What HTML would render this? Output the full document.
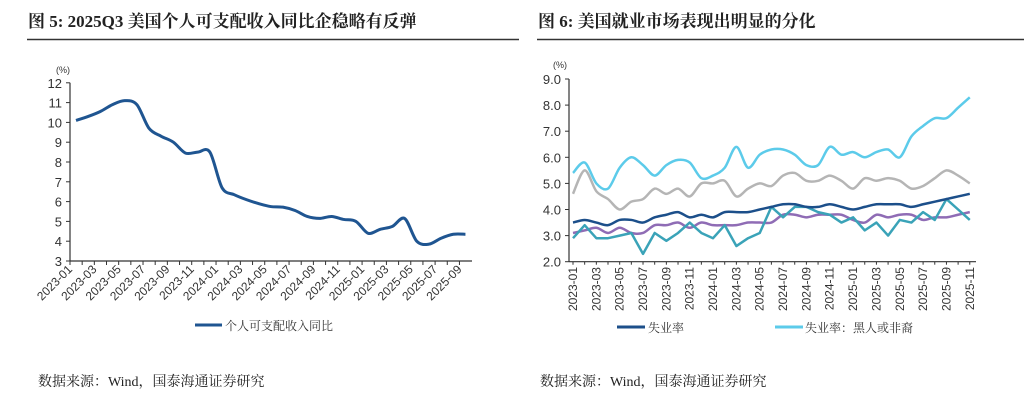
<!DOCTYPE html>
<html><head><meta charset="utf-8"><style>
body{margin:0;background:#fff;width:1024px;height:409px;overflow:hidden;font-family:"Liberation Serif","Noto Serif CJK SC",serif}
svg{position:absolute;left:0;top:0}
</style></head><body>
<svg id="s" width="1024" height="409" viewBox="0 0 1024 409">
<text x="28" y="27" font-size="17" font-weight="bold" fill="#222" font-family="Liberation Serif,Noto Serif CJK SC,serif">图 5: 2025Q3 美国个人可支配收入同比企稳略有反弹</text>
<text x="538" y="27" font-size="17" font-weight="bold" fill="#222" font-family="Liberation Serif,Noto Serif CJK SC,serif">图 6: 美国就业市场表现出明显的分化</text>
<line x1="27" y1="39.5" x2="519" y2="39.5" stroke="#333" stroke-width="1.5"/>
<line x1="537" y1="39.5" x2="1024" y2="39.5" stroke="#333" stroke-width="1.5"/>
<text x="38" y="386" font-size="14" fill="#222" font-family="Liberation Serif,Noto Serif CJK SC,serif">数据来源：Wind，国泰海通证券研究</text>
<text x="540" y="386" font-size="14" fill="#222" font-family="Liberation Serif,Noto Serif CJK SC,serif">数据来源：Wind，国泰海通证券研究</text>
<g id="L"></g><g id="R"></g>
</svg>
<script>
const leftCats=[];for(let y=2023;y<=2025;y++)for(let m=1;m<=12;m++){if(leftCats.length<33)leftCats.push(y+'-'+String(m).padStart(2,'0'));}
const leftTicks=[3,4,5,6,7,8,9,10,11,12];
const incomeYoY=[10.1,10.3,10.55,10.9,11.1,10.9,9.7,9.3,9.0,8.45,8.5,8.5,6.7,6.35,6.1,5.9,5.75,5.72,5.55,5.25,5.15,5.25,5.1,5.0,4.4,4.6,4.75,5.15,4.0,3.85,4.15,4.35,4.35];
const rightCats=[];for(let y=2023;y<=2025;y++)for(let m=1;m<=12;m++){if(rightCats.length<35)rightCats.push(y+'-'+String(m).padStart(2,'0'));}
const rightTicks=[2,3,4,5,6,7,8,9];
const unemp=[3.5,3.6,3.5,3.4,3.6,3.6,3.5,3.7,3.8,3.9,3.7,3.8,3.7,3.9,3.9,3.9,4.0,4.1,4.2,4.2,4.1,4.1,4.2,4.1,4.0,4.1,4.2,4.2,4.2,4.1,4.2,4.3,4.4,4.5,4.6];
const unempBlack=[5.4,5.8,5.0,4.8,5.6,6.0,5.7,5.3,5.7,5.9,5.8,5.2,5.3,5.6,6.4,5.6,6.1,6.3,6.3,6.1,5.7,5.7,6.4,6.1,6.2,6.0,6.2,6.3,6.0,6.8,7.2,7.5,7.5,7.9,8.3];
const unempGrey=[4.6,5.5,4.7,4.4,4.0,4.3,4.4,4.8,4.6,4.8,4.5,5.0,5.0,5.1,4.5,4.8,5.0,4.9,5.3,5.4,5.1,5.1,5.3,5.1,4.8,5.2,5.1,5.2,5.1,4.8,4.9,5.2,5.5,5.3,5.0];
const unempPurple=[3.1,3.2,3.3,3.1,3.3,3.1,3.1,3.4,3.4,3.5,3.3,3.5,3.4,3.4,3.4,3.5,3.5,3.5,3.8,3.8,3.7,3.8,3.8,3.8,3.6,3.5,3.8,3.7,3.8,3.8,3.6,3.7,3.7,3.8,3.9];
const unempTeal=[2.9,3.4,2.9,2.9,3.0,3.1,2.3,3.1,2.8,3.1,3.5,3.1,2.9,3.4,2.6,2.9,3.1,4.1,3.7,4.1,4.1,3.9,3.8,3.5,3.7,3.2,3.5,3.0,3.6,3.5,3.9,3.6,4.4,4.0,3.6];

const NS='http://www.w3.org/2000/svg';
function mk(tag,attrs,parent,txt){const e=document.createElementNS(NS,tag);for(const k in attrs)e.setAttribute(k,attrs[k]);if(txt!==undefined)e.textContent=txt;parent.appendChild(e);return e;}
function smooth(pts){let d='M'+pts[0][0]+','+pts[0][1];for(let i=0;i<pts.length-1;i++){const p0=pts[i-1]||pts[i],p1=pts[i],p2=pts[i+1],p3=pts[i+2]||p2;const t=0.16;d+=' C'+(p1[0]+(p2[0]-p0[0])*t)+','+(p1[1]+(p2[1]-p0[1])*t)+' '+(p2[0]-(p3[0]-p1[0])*t)+','+(p2[1]-(p3[1]-p1[1])*t)+' '+p2[0]+','+p2[1];}return d;}
const sans='Liberation Sans,Noto Sans CJK SC,sans-serif';

// LEFT
const L=document.getElementById('L');
const lx=i=>76+i*12.17, ly=v=>261-(v-3)*19.8;
mk('line',{x1:70,y1:ly(3),x2:472,y2:ly(3),stroke:'#333','stroke-width':1.2},L);
mk('line',{x1:70,y1:ly(3),x2:70,y2:ly(12),stroke:'#333','stroke-width':1.2},L);
leftTicks.forEach(v=>{mk('line',{x1:66,y1:ly(v),x2:70,y2:ly(v),stroke:'#333'},L);
const t=mk('text',{x:62,y:ly(v)+5,'font-size':13,'text-anchor':'end',fill:'#333','font-family':sans},L,String(v));
});
mk('text',{x:56,y:73,'font-size':9,fill:'#333','font-family':sans},L,'(%)');
leftCats.forEach((c,i)=>{const x=lx(i)-6;mk('line',{x1:x,y1:261,x2:x,y2:265,stroke:'#333'},L);
if(i%2===0){const t=mk('text',{x:x+3,y:270,'font-size':12,'text-anchor':'end',fill:'#333','font-family':sans,transform:'rotate(-45 '+(x+3)+' 270)'},L,c);
}});
const lp=mk('path',{d:smooth(incomeYoY.map((v,i)=>[lx(i),ly(v)])),fill:'none',stroke:'#1f5591','stroke-width':3},L);

mk('line',{x1:195,y1:325,x2:222,y2:325,stroke:'#1f5591','stroke-width':3},L);
mk('text',{x:225,y:330,'font-size':12,fill:'#333','font-family':'Liberation Serif,Noto Serif CJK SC,serif'},L,'个人可支配收入同比');

// RIGHT
const R=document.getElementById('R');
const rx=i=>573+i*11.67, ry=v=>261.7-(v-2)*26.1;
mk('line',{x1:569,y1:ry(2),x2:976,y2:ry(2),stroke:'#333','stroke-width':1.2},R);
mk('line',{x1:569,y1:ry(2),x2:569,y2:ry(9),stroke:'#333','stroke-width':1.2},R);
rightTicks.forEach(v=>{mk('line',{x1:565,y1:ry(v),x2:569,y2:ry(v),stroke:'#333'},R);
const t=mk('text',{x:561,y:ry(v)+5,'font-size':13,'text-anchor':'end',fill:'#333','font-family':sans},R,v.toFixed(1));
});
mk('text',{x:553,y:68,'font-size':9,fill:'#333','font-family':sans},R,'(%)');
rightCats.forEach((c,i)=>{const x=rx(i);mk('line',{x1:x,y1:ry(2),x2:x,y2:ry(2)+3,stroke:'#333'},R);
if(i%2===0){const t=mk('text',{x:x+4,y:267,'font-size':12,'text-anchor':'end',fill:'#333','font-family':sans,transform:'rotate(-90 '+(x+4)+' 267)'},R,c);
}});
function series(arr,col,name,sm){const pts=arr.map((v,i)=>[rx(i),ry(v)]);const d=sm?smooth(pts):'M'+pts.map(p=>p.join(',')).join(' L');
const p=mk('path',{d:d,fill:'none',stroke:col,'stroke-width':2.5,'stroke-linejoin':'round'},R);}
series(unempGrey,'#b5b5b5','unemployment-grey-line',true);
series(unempPurple,'#8f6cb5','unemployment-purple-line',true);
series(unempTeal,'#3aa3b8','unemployment-teal-line',false);
series(unemp,'#1c4f8a','unemployment-rate-line',true);
series(unempBlack,'#5ccbea','unemployment-black-line',true);
mk('line',{x1:617,y1:327,x2:645,y2:327,stroke:'#1c4f8a','stroke-width':3},R);
mk('text',{x:648,y:332,'font-size':12,fill:'#333','font-family':'Liberation Serif,Noto Serif CJK SC,serif'},R,'失业率');
mk('line',{x1:775,y1:327,x2:803,y2:327,stroke:'#5ccbea','stroke-width':3},R);
mk('text',{x:805,y:332,'font-size':12,fill:'#333','font-family':'Liberation Serif,Noto Serif CJK SC,serif'},R,'失业率：黑人或非裔');
</script>
</body></html>
